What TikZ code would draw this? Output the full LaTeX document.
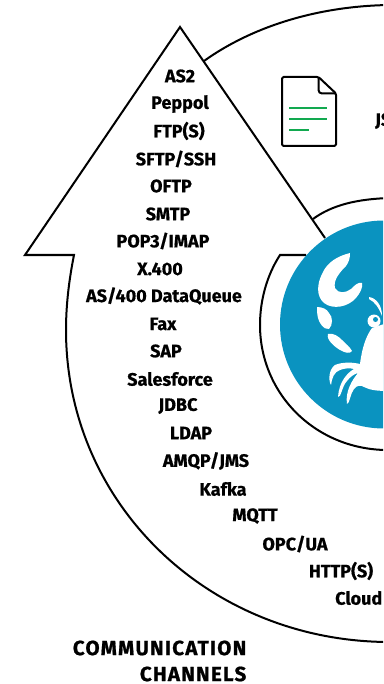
\documentclass[tikz,border=0pt]{standalone}
\usepackage{fontspec}
\setmainfont{Fira Sans}[BoldFont={Fira Sans Bold},BoldFeatures={FakeBold=0.7}]
\newfontfamily\titlefont{Fira Sans Bold}[LetterSpace=6.2,FakeBold=0.9]
\definecolor{crabblue}{HTML}{0A93C0}
\definecolor{docgreen}{HTML}{12A950}
\tikzset{
  outline/.style={draw=black,line width=2pt},
  chan/.style={font=\fontsize{18}{20}\selectfont\bfseries,inner sep=0pt,anchor=center},
  title/.style={font=\fontsize{20.5}{22}\titlefont,inner sep=0pt,anchor=east},
  crab/.style={fill=white,draw=none}
}
\begin{document}
\begin{tikzpicture}[x=1pt,y=-1pt]
\path[use as bounding box] (0,0) rectangle (383,684);
\begin{scope}
\clip (0,0) rectangle (383,684);
% outer boundary
\draw[outline] (204,61) .. controls (250,28) and (315,6) .. (390,5);
\draw[outline] (313,219) .. controls (332,205) and (357,199) .. (390,198);
\draw[outline,line join=miter] (306,255) -- (280,255) .. controls (267,275) and (260,300) .. (260,325)
  .. controls (260,395) and (317,451) .. (390,450);
\draw[outline,line join=miter] (325,238) -- (180,27) -- (25,255) -- (74,255)
  .. controls (69,280) and (66,305) .. (66,330)
  .. controls (66,505) and (210,642) .. (390,642);
\fill[crabblue] (384,324.5) circle[radius=104];
% crab claw
\fill[crab] (350,253) .. controls (338,256) and (327,262) .. (322,274)
  .. controls (317,284) and (316,296) .. (324,303)
  .. controls (333,310) and (348,307) .. (356,298)
  .. controls (360,293) and (363,288) .. (362,283)
  .. controls (358,282) and (355,285) .. (351,289)
  .. controls (346,293) and (338,294) .. (335,288)
  .. controls (333,280) and (340,272) .. (346,266)
  .. controls (349,262) and (350,258) .. (350,253) -- cycle;
\fill[crab] (317,307) .. controls (322,307) and (327,309) .. (329,313)
  .. controls (333,317) and (333,325) .. (329,329)
  .. controls (323,330) and (319,322) .. (318,318)
  .. controls (317,314) and (317,310) .. (317,307) -- cycle;
\fill[crab] (328,334) .. controls (334,333) and (338,336) .. (342,340)
  .. controls (346,344) and (350,347) .. (352,351)
  .. controls (350,354) and (345,353) .. (340,350)
  .. controls (335,347) and (326,340) .. (328,334) -- cycle;
% crab body and legs
\fill[crab] (372,328) .. controls (366,336) and (362,348) .. (360,364)
  .. controls (352,362) and (342,362) .. (335,365)
  .. controls (329,369) and (328,380) .. (331,385)
  .. controls (332,378) and (334,372) .. (340,370)
  .. controls (345,368) and (350,368) .. (354,369)
  .. controls (347,373) and (339,382) .. (338,397)
  .. controls (341,398) and (342,386) .. (347,381)
  .. controls (350,377) and (354,374) .. (358,373)
  .. controls (352,380) and (345,392) .. (347,404)
  .. controls (350,403) and (350,394) .. (354,389)
  .. controls (357,385) and (361,385) .. (364,387)
  .. controls (370,390) and (376,391) .. (390,391)
  -- (390,322) -- cycle;
\fill[crab] (374,321) circle[radius=6.5];
\fill[crabblue] (375.5,319.5) circle[radius=2.5];
\fill[crab] (369,297) .. controls (376,298) and (382,305) .. (382,316)
  .. controls (379,308) and (375,302) .. (369,299) -- cycle;
% document icon
\draw[black,line width=2pt,line join=round,rounded corners=1.5pt] (318.5,77) -- (282,77) -- (282,146) -- (336,146) -- (336,93.5) -- cycle;
\draw[black,line width=2pt,line join=round] (318.5,77) -- (318.5,90) .. controls (318.5,92) and (320,93.5) .. (322,93.5) -- (336,93.5);
\draw[docgreen,line width=1.7pt] (289,108) -- (327,108) (289,119) -- (327,119) (289,130) -- (309,130);
\end{scope}
\node[chan] (n1) at (180,76) {AS2};
\node[chan] (n2) at (180,104) {Peppol};
\node[chan] (n3) at (179,131) {FTP(S)};
\node[chan] (n4) at (176,159) {SFTP/SSH};
\node[chan] (n5) at (171,186) {OFTP};
\node[chan] (n6) at (168,214) {SMTP};
\node[chan] (n7) at (163,241) {POP3/IMAP};
\node[chan] (n8) at (160,269) {X.400};
\node[chan] (n9) at (164,296) {AS/400 DataQueue};
\node[chan] (n10) at (163,324) {Fax};
\node[chan] (n11) at (166,351) {SAP};
\node[chan] (n12) at (170,379) {Salesforce};
\node[chan] (n13) at (178,406) {JDBC};
\node[chan] (n14) at (191,433) {LDAP};
\node[chan] (n15) at (206,461) {AMQP/JMS};
\node[chan] (n16) at (223,489) {Kafka};
\node[chan] (n17) at (255,516) {MQTT};
\node[chan] (n18) at (295,544) {OPC/UA};
\node[chan] (n19) at (341,571) {HTTP(S)};
\node[chan,anchor=west] (n20) at (335,598) {Cloud};
\node[chan,anchor=west] (n21) at (375,121) {JS};
\node[title] (t1) at (246.5,648) {COMMUNICATION};
\node[title] (t2) at (246.5,674) {CHANNELS};
\end{tikzpicture}
\end{document}
